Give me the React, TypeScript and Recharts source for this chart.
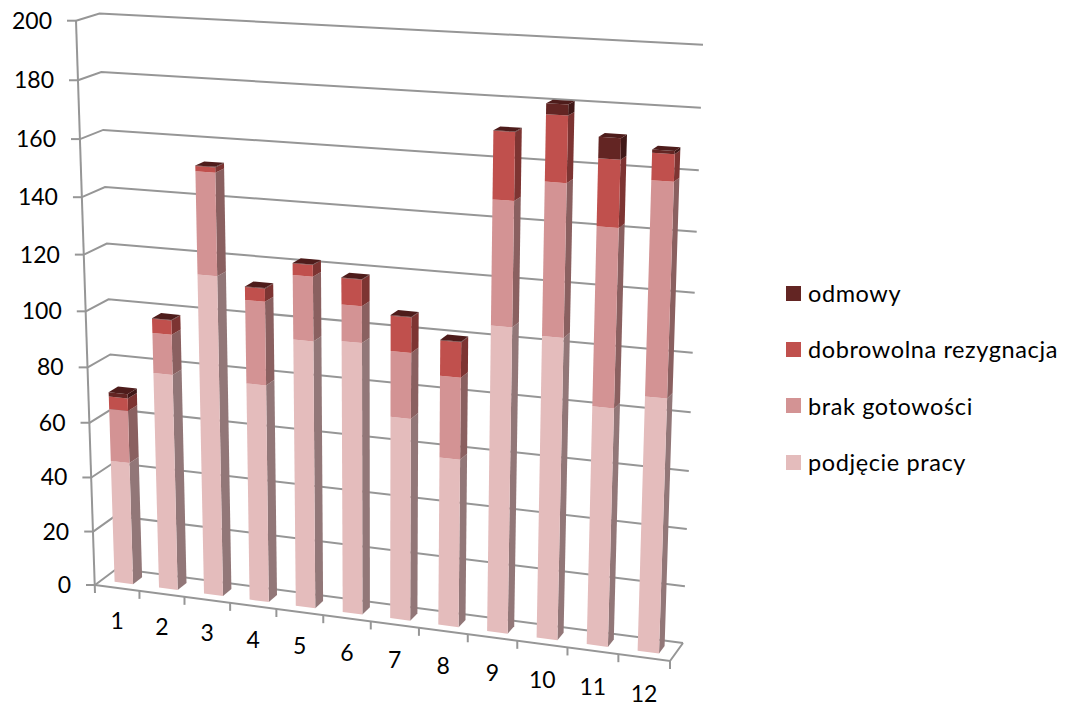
import { Bar, BarChart, CartesianGrid, Legend, XAxis, YAxis } from "recharts";

const categories = ["1", "2", "3", "4", "5", "6", "7", "8", "9", "10", "11", "12"];
const podjeciePracy = [45, 78.7, 115, 78.3, 95.3, 96.3, 71.7, 59.3, 106.3, 104.3, 82.3, 87.3];
const brakGotowosci = [19, 14.3, 35.6, 29.3, 22.3, 12.7, 22.8, 28.3, 42, 51, 59.7, 70.8];
const dobrowolnaRezygnacja = [4.5, 5, 1.8, 4.5, 4, 9, 12.1, 12.1, 22.4, 21.8, 22, 8.8];
const odmowy = [1.6, 0.2, 0.2, 0.2, 0.2, 0.2, 0.2, 0.2, 0.2, 3.5, 6.9, 1];
const valueTicks = [0, 20, 40, 60, 80, 100, 120, 140, 160, 180, 200];

const chartData = categories.map((name, i) => ({
  name,
  podjecie: podjeciePracy[i],
  brak: brakGotowosci[i],
  rezygnacja: dobrowolnaRezygnacja[i],
  odmowy: odmowy[i]
}));

// plot rectangle the library lays out; everything is then warped into the 3D box
const PLOT = { left: 95, top: 20, width: 575, height: 565 };
const GRID = "#969696";

const FRONT = { tl: [76, 20.7], bl: [95, 585], br: [670, 661], tr: [690, 52] };
const BACK = { tl: [99.5, 13.5], bl: [117, 568.5], br: [683, 643], tr: [703, 44.7] };
const BAR_D1 = 0.3;
const BAR_D2 = 0.72;

const warp = (t: number, k: number) => t / (1 + k * (1 - t));

function corner(q: typeof FRONT, u: number, v: number) {
  const out = [0, 0];
  for (const i of [0, 1]) {
    const bottom = q.bl[i] + (q.br[i] - q.bl[i]) * u;
    const top = q.tl[i] + (q.tr[i] - q.tl[i]) * u;
    out[i] = bottom + (top - bottom) * v;
  }
  return out;
}

function project(u: number, v: number, d: number) {
  const U = warp(u, 0.085);
  const V = warp(v, 0.062);
  const f = corner(FRONT, U, V);
  const b = corner(BACK, U, V);
  return [f[0] + (b[0] - f[0]) * d, f[1] + (b[1] - f[1]) * d];
}

const toU = (x: number) => (x - PLOT.left) / PLOT.width;
const toV = (y: number) => 1 - (y - PLOT.top) / PLOT.height;
const pts = (list: number[][]) => list.map((p) => `${p[0].toFixed(1)},${p[1].toFixed(1)}`).join(" ");

function makeShape(front: string, side: string, top?: string) {
  return function Box3D(props: any) {
    const { x, y, width, height } = props;
    const u1 = toU(x);
    const u2 = toU(x + width);
    const v1 = toV(y + height);
    const v2 = toV(y);
    return (
      <g>
        <polygon
          points={pts([project(u2, v1, BAR_D1), project(u2, v1, BAR_D2), project(u2, v2, BAR_D2), project(u2, v2, BAR_D1)])}
          fill={side}
        />
        <polygon
          points={pts([project(u1, v1, BAR_D1), project(u2, v1, BAR_D1), project(u2, v2, BAR_D1), project(u1, v2, BAR_D1)])}
          fill={front}
        />
        {top && (
          <polygon
            points={pts([project(u1, v2, BAR_D1), project(u2, v2, BAR_D1), project(u2, v2, BAR_D2), project(u1, v2, BAR_D2)])}
            fill={top}
          />
        )}
      </g>
    );
  };
}

function GridLine(props: any) {
  const v = toV(props.y1);
  return (
    <polyline
      points={pts([project(0, v, 0), project(0, v, 1), project(1, v, 1)])}
      fill="none"
      stroke={GRID}
      strokeWidth={2}
    />
  );
}

function ValueTick(props: any) {
  const v = toV(props.y);
  const p = project(0, v, 0);
  return (
    <g>
      <line x1={p[0] - 9} y1={p[1]} x2={p[0]} y2={p[1]} stroke={GRID} strokeWidth={2} />
      <text x={p[0] - 24} y={p[1] + 8} textAnchor="end" fontFamily="Lato" fontSize={23} fill="#000">
        {props.payload.value}
      </text>
    </g>
  );
}

function CategoryTick(props: any) {
  const u = toU(props.x);
  const p = project(u, 0, 0);
  return (
    <text x={p[0]} y={p[1] + 40.5 + 4.5 * u} textAnchor="middle" fontFamily="Lato" fontSize={23} fill="#000">
      {props.payload.value}
    </text>
  );
}

// box edges that belong to no axis: left upright, floor edges and floor ticks
function Frame() {
  const ticks = categories.map((_, i) => (i + 1) / 12);
  return (
    <g stroke={GRID} strokeWidth={2} fill="none">
      <line x1={FRONT.tl[0]} y1={FRONT.tl[1]} x2={FRONT.bl[0]} y2={FRONT.bl[1] + 8} />
      <polyline points={pts([FRONT.bl, FRONT.br, BACK.br])} />
      {ticks.map((t) => {
        const p = project(t, 0, 0);
        return <line key={t} x1={p[0]} y1={p[1]} x2={p[0]} y2={p[1] + 8} />;
      })}
    </g>
  );
}

const legendRows = [
  { label: "odmowy", color: "#632523" },
  { label: "dobrowolna rezygnacja", color: "#C0504D" },
  { label: "brak gotowości", color: "#D39394" },
  { label: "podjęcie pracy", color: "#E4BCBC" }
];

function LegendBox() {
  return (
    <div>
      {legendRows.map((row) => (
        <div key={row.label} style={{ display: "flex", alignItems: "center", height: 56.3 }}>
          <span style={{ width: 15, height: 15, background: row.color, marginRight: 7 }} />
          <span style={{ fontFamily: "Lato", fontSize: 23.5, letterSpacing: 0.6, color: "#000", whiteSpace: "nowrap" }}>{row.label}</span>
        </div>
      ))}
    </div>
  );
}

export default function App() {
  return (
    <div style={{ position: "absolute", left: 0, top: 0, width: 1066, height: 704 }}>
      <BarChart
        width={1066}
        height={704}
        data={chartData}
        barCategoryGap="29.5%"
        margin={{ top: PLOT.top, right: 116, bottom: 59, left: 35 }}
      >
        <CartesianGrid vertical={false} horizontal={GridLine} />
        <Frame />
        <XAxis dataKey="name" height={60} axisLine={false} tickLine={false} interval={0} tick={CategoryTick} />
        <YAxis width={60} domain={[0, 200]} ticks={valueTicks} axisLine={false} tickLine={false} tick={ValueTick} />
        <Legend
          layout="vertical"
          align="right"
          verticalAlign="middle"
          width={280}
          content={LegendBox}
          wrapperStyle={{ left: 786, top: 265, right: "auto", bottom: "auto" }}
        />
        <Bar dataKey="podjecie" name="podjęcie pracy" stackId="a" fill="#E4BCBC" isAnimationActive={false} shape={makeShape("#E4BCBC", "#927778")} />
        <Bar dataKey="brak" name="brak gotowości" stackId="a" fill="#D39394" isAnimationActive={false} shape={makeShape("#D39394", "#8A6060")} />
        <Bar dataKey="rezygnacja" name="dobrowolna rezygnacja" stackId="a" fill="#C0504D" isAnimationActive={false} shape={makeShape("#C0504D", "#7D3432")} />
        <Bar dataKey="odmowy" name="odmowy" stackId="a" fill="#632523" isAnimationActive={false} shape={makeShape("#632523", "#401817", "#4E1C1B")} />
      </BarChart>
    </div>
  );
}
